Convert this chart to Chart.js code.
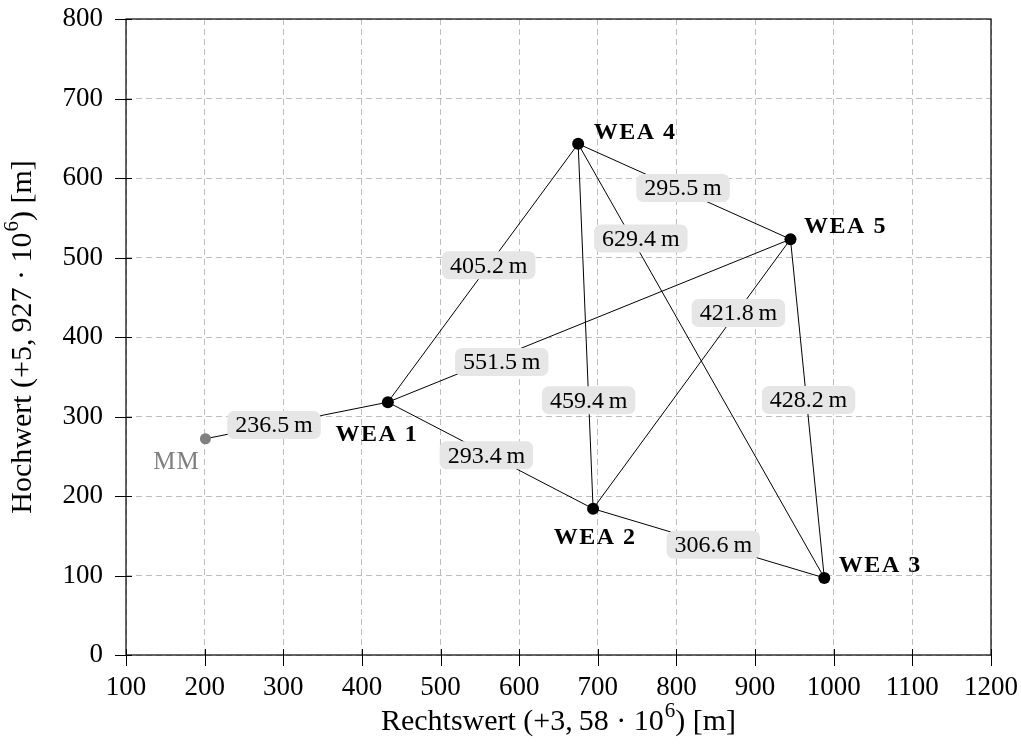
<!DOCTYPE html>
<html>
<head>
<meta charset="utf-8">
<script src="https://cdn.jsdelivr.net/npm/chart.js@4.4.1/dist/chart.umd.min.js"></script>
<style>
  html, body { margin: 0; padding: 0; background: #ffffff; }
  #wrap { width: 1021px; height: 749px; }
</style>
</head>
<body>
<div id="wrap"><canvas id="c" width="1021" height="749"></canvas></div>
<script>
// Standorte: Rechtswert / Hochwert relativ zum Bezugspunkt [m]
const siteNames  = ['MM', 'WEA 1', 'WEA 2', 'WEA 3', 'WEA 4', 'WEA 5'];
const rechtswert = [201, 433, 694, 988, 675, 945];
const hochwert   = [272, 318, 184, 97, 643, 523];

// Verbindungen zwischen Standorten (Indizes in siteNames)
const edgeFrom = [0, 1, 1, 1, 4, 4, 4, 5, 5, 2];
const edgeTo   = [1, 4, 5, 2, 2, 5, 3, 2, 3, 3];

// Achsenbeschriftung
const xTicks = [100, 200, 300, 400, 500, 600, 700, 800, 900, 1000, 1100, 1200];
const yTicks = [0, 100, 200, 300, 400, 500, 600, 700, 800];
const xTitle = ['Rechtswert (+3,\u200958\u2005\u00b7\u200510', '6', ') [m]'];
const yTitle = ['Hochwert (+5,\u2009927\u2005\u00b7\u200510', '6', ') [m]'];

// Darstellung
const SERIF = "'Liberation Serif', 'DejaVu Serif', serif";
const edgeLabelAt = [0.376, 0.53, 0.283, 0.48, 0.703, 0.494, 0.218, 0.274, 0.475, 0.52];
const edgeLabelShift = [[0, 0], [0, 0], [0, 6], [0, 2], [0, 0], [0, -3], [9, 0], [2, 0], [2, 0], [0, 0]];
const siteLabelShift = [[-29, 24], [-11, 33], [2, 29], [56, -12], [57, -11], [55, -12]];
const siteColor = ['#808080', '#000', '#000', '#000', '#000', '#000'];

const sites = siteNames.map((n, i) => ({ x: rechtswert[i], y: hochwert[i] }));

function distance(a, b) {
  return Math.hypot(rechtswert[a] - rechtswert[b], hochwert[a] - hochwert[b]);
}

const edgeSets = edgeFrom.map((a, k) => ({
  data: [sites[a], sites[edgeTo[k]]],
  showLine: true,
  borderColor: '#000000',
  borderWidth: 1,
  pointRadius: 0,
  pointHoverRadius: 0
}));

function roundBox(ctx, x, y, w, h, r) {
  ctx.beginPath();
  ctx.moveTo(x + r, y);
  ctx.lineTo(x + w - r, y);
  ctx.arcTo(x + w, y, x + w, y + r, r);
  ctx.lineTo(x + w, y + h - r);
  ctx.arcTo(x + w, y + h, x + w - r, y + h, r);
  ctx.lineTo(x + r, y + h);
  ctx.arcTo(x, y + h, x, y + h - r, r);
  ctx.lineTo(x, y + r);
  ctx.arcTo(x, y, x + r, y, r);
  ctx.closePath();
}

function drawTitle(ctx, parts, cx, cy, rotate) {
  const big = '30px ' + SERIF, small = '21px ' + SERIF;
  ctx.save();
  ctx.translate(cx, cy);
  if (rotate) ctx.rotate(-Math.PI / 2);
  ctx.fillStyle = '#000';
  ctx.textBaseline = 'middle';
  ctx.textAlign = 'left';
  ctx.font = big; const w0 = ctx.measureText(parts[0]).width;
  ctx.font = small; const w1 = ctx.measureText(parts[1]).width;
  ctx.font = big; const w2 = ctx.measureText(parts[2]).width;
  let x = -(w0 + w1 + w2 + 1) / 2;
  ctx.font = big; ctx.fillText(parts[0], x, 0); x += w0;
  ctx.font = small; ctx.fillText(parts[1], x + 1, -11); x += w1 + 1;
  ctx.font = big; ctx.fillText(parts[2], x, 0);
  ctx.restore();
}

const decorations = {
  id: 'decorations',
  afterDatasetsDraw(chart) {
    const { ctx, scales: { x, y } } = chart;
    // Entfernungsangaben auf den Verbindungen
    ctx.save();
    ctx.font = '24px ' + SERIF;
    ctx.textAlign = 'center';
    ctx.textBaseline = 'middle';
    edgeFrom.forEach((a, k) => {
      const b = edgeTo[k];
      const t = edgeLabelAt[k];
      const px = x.getPixelForValue(rechtswert[a] + (rechtswert[b] - rechtswert[a]) * t) + edgeLabelShift[k][0];
      const py = y.getPixelForValue(hochwert[a] + (hochwert[b] - hochwert[a]) * t) + edgeLabelShift[k][1];
      const txt = distance(a, b).toFixed(1) + '\u2009m';
      const w = ctx.measureText(txt).width + 16, h = 28;
      ctx.fillStyle = '#e6e6e6';
      roundBox(ctx, px - w / 2, py - h / 2, w, h, 7);
      ctx.fill();
      ctx.fillStyle = '#000';
      ctx.fillText(txt, px, py + 1);
    });
    ctx.restore();
  },
  afterDraw(chart) {
    const { ctx, chartArea: a, scales: { x, y } } = chart;
    ctx.save();
    // Rahmen
    ctx.strokeStyle = '#000';
    ctx.lineWidth = 1.2;
    ctx.setLineDash([]);
    ctx.strokeRect(a.left, a.top, a.right - a.left, a.bottom - a.top);
    // Teilstriche
    ctx.lineWidth = 1;
    ctx.beginPath();
    xTicks.forEach(v => {
      const px = Math.round(x.getPixelForValue(v)) + 0.5;
      ctx.moveTo(px, a.bottom + 11); ctx.lineTo(px, a.bottom - 6);
    });
    yTicks.forEach(v => {
      const py = Math.round(y.getPixelForValue(v)) + 0.5;
      ctx.moveTo(a.left - 11, py); ctx.lineTo(a.left + 6, py);
    });
    ctx.stroke();
    // Standortnamen
    ctx.textAlign = 'center';
    ctx.textBaseline = 'middle';
    siteNames.forEach((n, i) => {
      const px = x.getPixelForValue(rechtswert[i]) + siteLabelShift[i][0];
      const py = y.getPixelForValue(hochwert[i]) + siteLabelShift[i][1];
      ctx.fillStyle = siteColor[i];
      if (i === 0) {
        ctx.font = '25px ' + SERIF;
        ctx.letterSpacing = '1px';
      } else {
        ctx.font = 'bold 24px ' + SERIF;
        ctx.letterSpacing = '1.5px';
      }
      ctx.fillText(n, px, py);
    });
    ctx.letterSpacing = '0px';
    ctx.restore();
    // Achsentitel
    drawTitle(ctx, xTitle, (a.left + a.right) / 2, 722, false);
    drawTitle(ctx, yTitle, 23, (a.top + a.bottom) / 2, true);
  }
};

new Chart(document.getElementById('c'), {
  type: 'scatter',
  data: {
    datasets: [
      {
        data: sites,
        pointRadius: siteNames.map((n, i) => i === 0 ? 5.5 : 6),
        pointBackgroundColor: siteColor,
        pointBorderColor: siteColor,
        pointBorderWidth: 0,
        showLine: false
      },
      ...edgeSets
    ]
  },
  options: {
    responsive: false,
    animation: false,
    devicePixelRatio: 1,
    layout: { padding: { top: 19, right: 30, left: 0, bottom: 0 } },
    plugins: { legend: { display: false }, tooltip: { enabled: false } },
    events: [],
    scales: {
      x: {
        type: 'linear',
        min: 100, max: 1200,
        afterBuildTicks: s => { s.ticks = xTicks.map(v => ({ value: v })); },
        afterFit: s => { s.height = 94; s.paddingLeft = 0; s.paddingRight = 0; },
        ticks: { font: { family: SERIF, size: 27 }, color: '#000', padding: 17, maxRotation: 0,
                 callback: v => String(v) },
        grid: { color: '#bdbdbd', lineWidth: 1, drawTicks: false },
        border: { display: false, dash: [6, 4] }
      },
      y: {
        type: 'linear',
        min: 0, max: 800,
        afterBuildTicks: s => { s.ticks = yTicks.map(v => ({ value: v })); },
        afterFit: s => { s.width = 126; s.paddingTop = 0; s.paddingBottom = 0; },
        ticks: { font: { family: SERIF, size: 27 }, color: '#000', padding: 23,
                 callback: v => String(v) },
        grid: { color: '#bdbdbd', lineWidth: 1, drawTicks: false },
        border: { display: false, dash: [6, 4] }
      }
    }
  },
  plugins: [decorations]
});
</script>
</body>
</html>
